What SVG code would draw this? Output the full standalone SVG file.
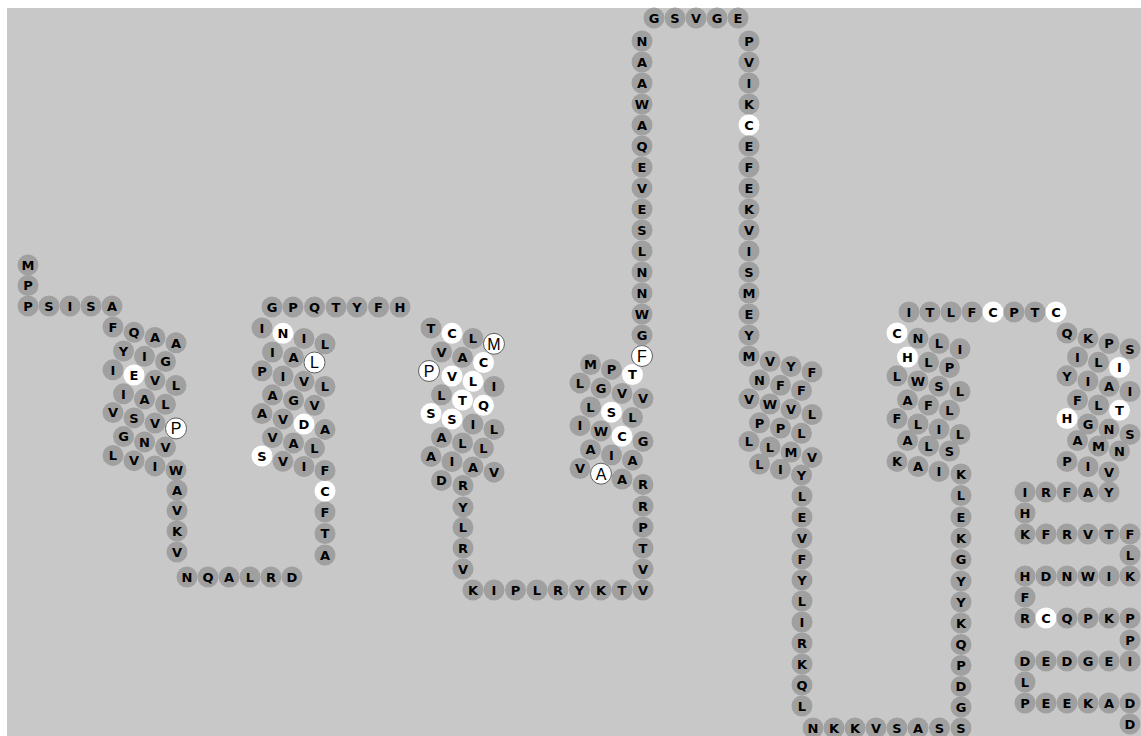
<svg xmlns="http://www.w3.org/2000/svg" width="1141" height="736" viewBox="0 0 1141 736">
<style>
.bg{fill:#c8c8c8}
.r circle{fill:#a0a0a0}
.r text{font-family:"DejaVu Sans",sans-serif;font-weight:bold;font-size:13px;text-anchor:middle;fill:#000}
.w circle{fill:#fff}
.o circle{fill:#fff;stroke:#606060;stroke-width:1}
.o text{font-family:"Liberation Sans",sans-serif;font-weight:normal;font-size:16px}
</style>
<rect width="1141" height="736" fill="#ffffff"/>
<rect class="bg" x="7" y="8" width="1134" height="728"/>
<g id="connectors"/>
<g id="residues">
<g id="n1" class="r" transform="translate(28 265)"><circle r="10.5"/><text y="4.7">M</text></g>
<g id="n2" class="r" transform="translate(28 285.5)"><circle r="10.5"/><text y="4.7">P</text></g>
<g id="n3" class="r" transform="translate(28 306)"><circle r="10.5"/><text y="4.7">P</text></g>
<g id="n4" class="r" transform="translate(49 306)"><circle r="10.5"/><text y="4.7">S</text></g>
<g id="n5" class="r" transform="translate(70 306)"><circle r="10.5"/><text y="4.7">I</text></g>
<g id="n6" class="r" transform="translate(91 306)"><circle r="10.5"/><text y="4.7">S</text></g>
<g id="n7" class="r" transform="translate(112 306)"><circle r="10.5"/><text y="4.7">A</text></g>

<g id="h1a" class="r" transform="translate(113 327)"><circle r="10.5"/><text y="4.7">F</text></g>
<g id="h1b" class="r" transform="translate(134 332.3)"><circle r="10.5"/><text y="4.7">Q</text></g>
<g id="h1c" class="r" transform="translate(155 337.5)"><circle r="10.5"/><text y="4.7">A</text></g>
<g id="h1d" class="r" transform="translate(176 342.8)"><circle r="10.5"/><text y="4.7">A</text></g>
<g id="h1e" class="r" transform="translate(123.5 351)"><circle r="10.5"/><text y="4.7">Y</text></g>
<g id="h1f" class="r" transform="translate(144.5 356.3)"><circle r="10.5"/><text y="4.7">I</text></g>
<g id="h1g" class="r" transform="translate(165.5 361.5)"><circle r="10.5"/><text y="4.7">G</text></g>
<g id="h1h" class="r" transform="translate(113 369.8)"><circle r="10.5"/><text y="4.7">I</text></g>
<g id="h1i" class="r w" transform="translate(134 375)"><circle r="10.5"/><text y="4.7">E</text></g>
<g id="h1j" class="r" transform="translate(155 380.3)"><circle r="10.5"/><text y="4.7">V</text></g>
<g id="h1k" class="r" transform="translate(176 385.5)"><circle r="10.5"/><text y="4.7">L</text></g>
<g id="h1l" class="r" transform="translate(123.5 393.8)"><circle r="10.5"/><text y="4.7">I</text></g>
<g id="h1m" class="r" transform="translate(144.5 399)"><circle r="10.5"/><text y="4.7">A</text></g>
<g id="h1n" class="r" transform="translate(165.5 404.3)"><circle r="10.5"/><text y="4.7">L</text></g>
<g id="h1o" class="r" transform="translate(113 412.6)"><circle r="10.5"/><text y="4.7">V</text></g>
<g id="h1p" class="r" transform="translate(134 417.9)"><circle r="10.5"/><text y="4.7">S</text></g>
<g id="h1q" class="r" transform="translate(155 423.1)"><circle r="10.5"/><text y="4.7">V</text></g>
<g id="h1r" class="r o" transform="translate(176 428.4)"><circle r="10.5"/><text y="5.8">P</text></g>
<g id="h1s" class="r" transform="translate(123.5 436.6)"><circle r="10.5"/><text y="4.7">G</text></g>
<g id="h1t" class="r" transform="translate(144.5 441.9)"><circle r="10.5"/><text y="4.7">N</text></g>
<g id="h1u" class="r" transform="translate(165.5 447.1)"><circle r="10.5"/><text y="4.7">V</text></g>
<g id="h1v" class="r" transform="translate(113 455.4)"><circle r="10.5"/><text y="4.7">L</text></g>
<g id="h1w" class="r" transform="translate(134 460.7)"><circle r="10.5"/><text y="4.7">V</text></g>
<g id="h1x" class="r" transform="translate(155 465.9)"><circle r="10.5"/><text y="4.7">I</text></g>
<g id="h1y" class="r" transform="translate(176 470)"><circle r="10.5"/><text y="4.7">W</text></g>

<g id="l1a" class="r" transform="translate(177 490)"><circle r="10.5"/><text y="4.7">A</text></g>
<g id="l1b" class="r" transform="translate(177 510.5)"><circle r="10.5"/><text y="4.7">V</text></g>
<g id="l1c" class="r" transform="translate(177 531)"><circle r="10.5"/><text y="4.7">K</text></g>
<g id="l1d" class="r" transform="translate(177 552)"><circle r="10.5"/><text y="4.7">V</text></g>
<g id="l1e" class="r" transform="translate(187 577)"><circle r="10.5"/><text y="4.7">N</text></g>
<g id="l1f" class="r" transform="translate(208 577)"><circle r="10.5"/><text y="4.7">Q</text></g>
<g id="l1g" class="r" transform="translate(229 577)"><circle r="10.5"/><text y="4.7">A</text></g>
<g id="l1h" class="r" transform="translate(250 577)"><circle r="10.5"/><text y="4.7">L</text></g>
<g id="l1i" class="r" transform="translate(271 577)"><circle r="10.5"/><text y="4.7">R</text></g>
<g id="l1j" class="r" transform="translate(292 577)"><circle r="10.5"/><text y="4.7">D</text></g>
<g id="l1k" class="r" transform="translate(325 555)"><circle r="10.5"/><text y="4.7">A</text></g>
<g id="l1l" class="r" transform="translate(325 533.5)"><circle r="10.5"/><text y="4.7">T</text></g>
<g id="l1m" class="r" transform="translate(325 512)"><circle r="10.5"/><text y="4.7">F</text></g>
<g id="l1n" class="r w" transform="translate(325 491)"><circle r="10.5"/><text y="4.7">C</text></g>

<g id="h2a" class="r" transform="translate(262 328)"><circle r="10.5"/><text y="4.7">I</text></g>
<g id="h2b" class="r w" transform="translate(283 333.3)"><circle r="10.5"/><text y="4.7">N</text></g>
<g id="h2c" class="r" transform="translate(304 338.5)"><circle r="10.5"/><text y="4.7">I</text></g>
<g id="h2d" class="r" transform="translate(325 343.8)"><circle r="10.5"/><text y="4.7">L</text></g>
<g id="h2e" class="r" transform="translate(272.5 352)"><circle r="10.5"/><text y="4.7">I</text></g>
<g id="h2f" class="r" transform="translate(293.5 357.3)"><circle r="10.5"/><text y="4.7">A</text></g>
<g id="h2g" class="r o" transform="translate(314.5 362.5)"><circle r="10.5"/><text y="5.8">L</text></g>
<g id="h2h" class="r" transform="translate(262 370.8)"><circle r="10.5"/><text y="4.7">P</text></g>
<g id="h2i" class="r" transform="translate(283 376)"><circle r="10.5"/><text y="4.7">I</text></g>
<g id="h2j" class="r" transform="translate(304 381.3)"><circle r="10.5"/><text y="4.7">V</text></g>
<g id="h2k" class="r" transform="translate(325 386.5)"><circle r="10.5"/><text y="4.7">L</text></g>
<g id="h2l" class="r" transform="translate(272.5 394.8)"><circle r="10.5"/><text y="4.7">A</text></g>
<g id="h2m" class="r" transform="translate(293.5 400)"><circle r="10.5"/><text y="4.7">G</text></g>
<g id="h2n" class="r" transform="translate(314.5 405.3)"><circle r="10.5"/><text y="4.7">V</text></g>
<g id="h2o" class="r" transform="translate(262 413.6)"><circle r="10.5"/><text y="4.7">A</text></g>
<g id="h2p" class="r" transform="translate(283 418.9)"><circle r="10.5"/><text y="4.7">V</text></g>
<g id="h2q" class="r w" transform="translate(304 424.1)"><circle r="10.5"/><text y="4.7">D</text></g>
<g id="h2r" class="r" transform="translate(325 429.4)"><circle r="10.5"/><text y="4.7">A</text></g>
<g id="h2s" class="r" transform="translate(272.5 437.6)"><circle r="10.5"/><text y="4.7">V</text></g>
<g id="h2t" class="r" transform="translate(293.5 442.9)"><circle r="10.5"/><text y="4.7">A</text></g>
<g id="h2u" class="r" transform="translate(314.5 448.1)"><circle r="10.5"/><text y="4.7">L</text></g>
<g id="h2v" class="r w" transform="translate(262 456)"><circle r="10.5"/><text y="4.7">S</text></g>
<g id="h2w" class="r" transform="translate(283 461.3)"><circle r="10.5"/><text y="4.7">V</text></g>
<g id="h2x" class="r" transform="translate(304 466.5)"><circle r="10.5"/><text y="4.7">I</text></g>
<g id="h2y" class="r" transform="translate(325 470.5)"><circle r="10.5"/><text y="4.7">F</text></g>

<g id="l2a" class="r" transform="translate(272 307)"><circle r="10.5"/><text y="4.7">G</text></g>
<g id="l2b" class="r" transform="translate(293 307)"><circle r="10.5"/><text y="4.7">P</text></g>
<g id="l2c" class="r" transform="translate(314.5 307)"><circle r="10.5"/><text y="4.7">Q</text></g>
<g id="l2d" class="r" transform="translate(336 307)"><circle r="10.5"/><text y="4.7">T</text></g>
<g id="l2e" class="r" transform="translate(357 307)"><circle r="10.5"/><text y="4.7">Y</text></g>
<g id="l2f" class="r" transform="translate(378.5 307)"><circle r="10.5"/><text y="4.7">F</text></g>
<g id="l2g" class="r" transform="translate(400 307)"><circle r="10.5"/><text y="4.7">H</text></g>

<g id="h3a" class="r" transform="translate(431 328)"><circle r="10.5"/><text y="4.7">T</text></g>
<g id="h3b" class="r w" transform="translate(452 333.3)"><circle r="10.5"/><text y="4.7">C</text></g>
<g id="h3c" class="r" transform="translate(473 338.5)"><circle r="10.5"/><text y="4.7">L</text></g>
<g id="h3d" class="r o" transform="translate(494 343.8)"><circle r="10.5"/><text y="5.8">M</text></g>
<g id="h3e" class="r" transform="translate(441.5 352)"><circle r="10.5"/><text y="4.7">V</text></g>
<g id="h3f" class="r" transform="translate(462.5 357.3)"><circle r="10.5"/><text y="4.7">A</text></g>
<g id="h3g" class="r w" transform="translate(483.5 362.5)"><circle r="10.5"/><text y="4.7">C</text></g>
<g id="h3h" class="r o" transform="translate(429 371)"><circle r="10.5"/><text y="5.8">P</text></g>
<g id="h3i" class="r w" transform="translate(452 376)"><circle r="10.5"/><text y="4.7">V</text></g>
<g id="h3j" class="r w" transform="translate(473 381.3)"><circle r="10.5"/><text y="4.7">L</text></g>
<g id="h3k" class="r" transform="translate(494 386.5)"><circle r="10.5"/><text y="4.7">I</text></g>
<g id="h3l" class="r" transform="translate(441.5 394.8)"><circle r="10.5"/><text y="4.7">L</text></g>
<g id="h3m" class="r w" transform="translate(462.5 400)"><circle r="10.5"/><text y="4.7">T</text></g>
<g id="h3n" class="r w" transform="translate(483.5 405.3)"><circle r="10.5"/><text y="4.7">Q</text></g>
<g id="h3o" class="r w" transform="translate(431 413.6)"><circle r="10.5"/><text y="4.7">S</text></g>
<g id="h3p" class="r w" transform="translate(452 418.9)"><circle r="10.5"/><text y="4.7">S</text></g>
<g id="h3q" class="r" transform="translate(473 424.1)"><circle r="10.5"/><text y="4.7">I</text></g>
<g id="h3r" class="r" transform="translate(494 429.4)"><circle r="10.5"/><text y="4.7">L</text></g>
<g id="h3s" class="r" transform="translate(441.5 437.6)"><circle r="10.5"/><text y="4.7">A</text></g>
<g id="h3t" class="r" transform="translate(462.5 442.9)"><circle r="10.5"/><text y="4.7">L</text></g>
<g id="h3u" class="r" transform="translate(483.5 448.1)"><circle r="10.5"/><text y="4.7">L</text></g>
<g id="h3v" class="r" transform="translate(431 456.4)"><circle r="10.5"/><text y="4.7">A</text></g>
<g id="h3w" class="r" transform="translate(452 461.7)"><circle r="10.5"/><text y="4.7">I</text></g>
<g id="h3x" class="r" transform="translate(473 466.9)"><circle r="10.5"/><text y="4.7">A</text></g>
<g id="h3y" class="r" transform="translate(494 472.2)"><circle r="10.5"/><text y="4.7">V</text></g>
<g id="h3z" class="r" transform="translate(441.5 480.4)"><circle r="10.5"/><text y="4.7">D</text></g>

<g id="l3a" class="r" transform="translate(463 485.5)"><circle r="10.5"/><text y="4.7">R</text></g>
<g id="l3b" class="r" transform="translate(463 507)"><circle r="10.5"/><text y="4.7">Y</text></g>
<g id="l3c" class="r" transform="translate(463 527.5)"><circle r="10.5"/><text y="4.7">L</text></g>
<g id="l3d" class="r" transform="translate(463 548)"><circle r="10.5"/><text y="4.7">R</text></g>
<g id="l3e" class="r" transform="translate(463 569)"><circle r="10.5"/><text y="4.7">V</text></g>
<g id="l3f" class="r" transform="translate(473 590)"><circle r="10.5"/><text y="4.7">K</text></g>
<g id="l3g" class="r" transform="translate(494 590)"><circle r="10.5"/><text y="4.7">I</text></g>
<g id="l3h" class="r" transform="translate(515.5 590)"><circle r="10.5"/><text y="4.7">P</text></g>
<g id="l3i" class="r" transform="translate(537 590)"><circle r="10.5"/><text y="4.7">L</text></g>
<g id="l3j" class="r" transform="translate(558 590)"><circle r="10.5"/><text y="4.7">R</text></g>
<g id="l3k" class="r" transform="translate(579.5 590)"><circle r="10.5"/><text y="4.7">Y</text></g>
<g id="l3l" class="r" transform="translate(601 590)"><circle r="10.5"/><text y="4.7">K</text></g>
<g id="l3m" class="r" transform="translate(622 590)"><circle r="10.5"/><text y="4.7">T</text></g>
<g id="l3n" class="r" transform="translate(643 590)"><circle r="10.5"/><text y="4.7">V</text></g>
<g id="l3o" class="r" transform="translate(643 569)"><circle r="10.5"/><text y="4.7">V</text></g>
<g id="l3p" class="r" transform="translate(643 548)"><circle r="10.5"/><text y="4.7">T</text></g>
<g id="l3q" class="r" transform="translate(643 527)"><circle r="10.5"/><text y="4.7">P</text></g>
<g id="l3r" class="r" transform="translate(643 506)"><circle r="10.5"/><text y="4.7">R</text></g>

<g id="h4a" class="r" transform="translate(643 484.5)"><circle r="10.5"/><text y="4.7">R</text></g>
<g id="h4b" class="r" transform="translate(622 479)"><circle r="10.5"/><text y="4.7">A</text></g>
<g id="h4c" class="r o" transform="translate(601 473.7)"><circle r="10.5"/><text y="5.8">A</text></g>
<g id="h4d" class="r" transform="translate(580 468.5)"><circle r="10.5"/><text y="4.7">V</text></g>
<g id="h4e" class="r" transform="translate(632.5 460.2)"><circle r="10.5"/><text y="4.7">A</text></g>
<g id="h4f" class="r" transform="translate(611.5 455)"><circle r="10.5"/><text y="4.7">I</text></g>
<g id="h4g" class="r" transform="translate(590.5 449.7)"><circle r="10.5"/><text y="4.7">A</text></g>
<g id="h4h" class="r" transform="translate(643 441.4)"><circle r="10.5"/><text y="4.7">G</text></g>
<g id="h4i" class="r w" transform="translate(622 436.2)"><circle r="10.5"/><text y="4.7">C</text></g>
<g id="h4j" class="r" transform="translate(601 430.9)"><circle r="10.5"/><text y="4.7">W</text></g>
<g id="h4k" class="r" transform="translate(580 425.7)"><circle r="10.5"/><text y="4.7">I</text></g>
<g id="h4l" class="r" transform="translate(632.5 417.4)"><circle r="10.5"/><text y="4.7">L</text></g>
<g id="h4m" class="r w" transform="translate(611.5 412.2)"><circle r="10.5"/><text y="4.7">S</text></g>
<g id="h4n" class="r" transform="translate(590.5 406.9)"><circle r="10.5"/><text y="4.7">L</text></g>
<g id="h4o" class="r" transform="translate(643 398.6)"><circle r="10.5"/><text y="4.7">V</text></g>
<g id="h4p" class="r" transform="translate(622 393.4)"><circle r="10.5"/><text y="4.7">V</text></g>
<g id="h4q" class="r" transform="translate(601 388.1)"><circle r="10.5"/><text y="4.7">G</text></g>
<g id="h4r" class="r" transform="translate(580 382.9)"><circle r="10.5"/><text y="4.7">L</text></g>
<g id="h4s" class="r w" transform="translate(632.5 374.6)"><circle r="10.5"/><text y="4.7">T</text></g>
<g id="h4t" class="r" transform="translate(611.5 369.4)"><circle r="10.5"/><text y="4.7">P</text></g>
<g id="h4u" class="r" transform="translate(590.5 364.5)"><circle r="10.5"/><text y="4.7">M</text></g>
<g id="h4v" class="r o" transform="translate(642 356)"><circle r="10.5"/><text y="5.8">F</text></g>

<g id="l4a" class="r" transform="translate(642 335)"><circle r="10.5"/><text y="4.7">G</text></g>
<g id="l4b" class="r" transform="translate(642 314)"><circle r="10.5"/><text y="4.7">W</text></g>
<g id="l4c" class="r" transform="translate(642 293)"><circle r="10.5"/><text y="4.7">N</text></g>
<g id="l4d" class="r" transform="translate(642 272)"><circle r="10.5"/><text y="4.7">N</text></g>
<g id="l4e" class="r" transform="translate(642 251)"><circle r="10.5"/><text y="4.7">L</text></g>
<g id="l4f" class="r" transform="translate(642 230)"><circle r="10.5"/><text y="4.7">S</text></g>
<g id="l4g" class="r" transform="translate(642 209)"><circle r="10.5"/><text y="4.7">E</text></g>
<g id="l4h" class="r" transform="translate(642 188)"><circle r="10.5"/><text y="4.7">V</text></g>
<g id="l4i" class="r" transform="translate(642 167)"><circle r="10.5"/><text y="4.7">E</text></g>
<g id="l4j" class="r" transform="translate(642 146)"><circle r="10.5"/><text y="4.7">Q</text></g>
<g id="l4k" class="r" transform="translate(642 125)"><circle r="10.5"/><text y="4.7">A</text></g>
<g id="l4l" class="r" transform="translate(642 104)"><circle r="10.5"/><text y="4.7">W</text></g>
<g id="l4m" class="r" transform="translate(642 83)"><circle r="10.5"/><text y="4.7">A</text></g>
<g id="l4n" class="r" transform="translate(642 62)"><circle r="10.5"/><text y="4.7">A</text></g>
<g id="l4o" class="r" transform="translate(642 41)"><circle r="10.5"/><text y="4.7">N</text></g>
<g id="l4p" class="r" transform="translate(654 18)"><circle r="10.5"/><text y="4.7">G</text></g>
<g id="l4q" class="r" transform="translate(675 18)"><circle r="10.5"/><text y="4.7">S</text></g>
<g id="l4r" class="r" transform="translate(696 18)"><circle r="10.5"/><text y="4.7">V</text></g>
<g id="l4s" class="r" transform="translate(717 18)"><circle r="10.5"/><text y="4.7">G</text></g>
<g id="l4t" class="r" transform="translate(738 18)"><circle r="10.5"/><text y="4.7">E</text></g>
<g id="l4u" class="r" transform="translate(749 41)"><circle r="10.5"/><text y="4.7">P</text></g>
<g id="l4v" class="r" transform="translate(749 62)"><circle r="10.5"/><text y="4.7">V</text></g>
<g id="l4w" class="r" transform="translate(749 83)"><circle r="10.5"/><text y="4.7">I</text></g>
<g id="l4x" class="r" transform="translate(749 104)"><circle r="10.5"/><text y="4.7">K</text></g>
<g id="l4y" class="r w" transform="translate(749 125)"><circle r="10.5"/><text y="4.7">C</text></g>
<g id="l4z" class="r" transform="translate(749 146)"><circle r="10.5"/><text y="4.7">E</text></g>
<g id="l4aa" class="r" transform="translate(749 167)"><circle r="10.5"/><text y="4.7">F</text></g>
<g id="l4ab" class="r" transform="translate(749 188)"><circle r="10.5"/><text y="4.7">E</text></g>
<g id="l4ac" class="r" transform="translate(749 209)"><circle r="10.5"/><text y="4.7">K</text></g>
<g id="l4ad" class="r" transform="translate(749 230)"><circle r="10.5"/><text y="4.7">V</text></g>
<g id="l4ae" class="r" transform="translate(749 251)"><circle r="10.5"/><text y="4.7">I</text></g>
<g id="l4af" class="r" transform="translate(749 272)"><circle r="10.5"/><text y="4.7">S</text></g>
<g id="l4ag" class="r" transform="translate(749 293)"><circle r="10.5"/><text y="4.7">M</text></g>
<g id="l4ah" class="r" transform="translate(749 314)"><circle r="10.5"/><text y="4.7">E</text></g>
<g id="l4ai" class="r" transform="translate(749 335)"><circle r="10.5"/><text y="4.7">Y</text></g>

<g id="h5a" class="r" transform="translate(749 356)"><circle r="10.5"/><text y="4.7">M</text></g>
<g id="h5b" class="r" transform="translate(770 361.3)"><circle r="10.5"/><text y="4.7">V</text></g>
<g id="h5c" class="r" transform="translate(791 366.5)"><circle r="10.5"/><text y="4.7">Y</text></g>
<g id="h5d" class="r" transform="translate(812 371.8)"><circle r="10.5"/><text y="4.7">F</text></g>
<g id="h5e" class="r" transform="translate(759.5 380)"><circle r="10.5"/><text y="4.7">N</text></g>
<g id="h5f" class="r" transform="translate(780.5 385.3)"><circle r="10.5"/><text y="4.7">F</text></g>
<g id="h5g" class="r" transform="translate(801.5 390.5)"><circle r="10.5"/><text y="4.7">F</text></g>
<g id="h5h" class="r" transform="translate(749 398.8)"><circle r="10.5"/><text y="4.7">V</text></g>
<g id="h5i" class="r" transform="translate(770 404)"><circle r="10.5"/><text y="4.7">W</text></g>
<g id="h5j" class="r" transform="translate(791 409.3)"><circle r="10.5"/><text y="4.7">V</text></g>
<g id="h5k" class="r" transform="translate(812 414.5)"><circle r="10.5"/><text y="4.7">L</text></g>
<g id="h5l" class="r" transform="translate(759.5 422.8)"><circle r="10.5"/><text y="4.7">P</text></g>
<g id="h5m" class="r" transform="translate(780.5 428)"><circle r="10.5"/><text y="4.7">P</text></g>
<g id="h5n" class="r" transform="translate(801.5 433.3)"><circle r="10.5"/><text y="4.7">L</text></g>
<g id="h5o" class="r" transform="translate(749 441.6)"><circle r="10.5"/><text y="4.7">L</text></g>
<g id="h5p" class="r" transform="translate(770 446.9)"><circle r="10.5"/><text y="4.7">L</text></g>
<g id="h5q" class="r" transform="translate(791 452.1)"><circle r="10.5"/><text y="4.7">M</text></g>
<g id="h5r" class="r" transform="translate(812 457.4)"><circle r="10.5"/><text y="4.7">V</text></g>
<g id="h5s" class="r" transform="translate(759.5 464)"><circle r="10.5"/><text y="4.7">L</text></g>
<g id="h5t" class="r" transform="translate(780.5 469.3)"><circle r="10.5"/><text y="4.7">I</text></g>
<g id="h5u" class="r" transform="translate(801.5 475)"><circle r="10.5"/><text y="4.7">Y</text></g>

<g id="l5a" class="r" transform="translate(802 496)"><circle r="10.5"/><text y="4.7">L</text></g>
<g id="l5b" class="r" transform="translate(802 517)"><circle r="10.5"/><text y="4.7">E</text></g>
<g id="l5c" class="r" transform="translate(802 538)"><circle r="10.5"/><text y="4.7">V</text></g>
<g id="l5d" class="r" transform="translate(802 559)"><circle r="10.5"/><text y="4.7">F</text></g>
<g id="l5e" class="r" transform="translate(802 580)"><circle r="10.5"/><text y="4.7">Y</text></g>
<g id="l5f" class="r" transform="translate(802 601)"><circle r="10.5"/><text y="4.7">L</text></g>
<g id="l5g" class="r" transform="translate(802 622)"><circle r="10.5"/><text y="4.7">I</text></g>
<g id="l5h" class="r" transform="translate(802 643)"><circle r="10.5"/><text y="4.7">R</text></g>
<g id="l5i" class="r" transform="translate(802 664)"><circle r="10.5"/><text y="4.7">K</text></g>
<g id="l5j" class="r" transform="translate(802 685)"><circle r="10.5"/><text y="4.7">Q</text></g>
<g id="l5k" class="r" transform="translate(802 706)"><circle r="10.5"/><text y="4.7">L</text></g>
<g id="l5l" class="r" transform="translate(813 728)"><circle r="10.5"/><text y="4.7">N</text></g>
<g id="l5m" class="r" transform="translate(834 728)"><circle r="10.5"/><text y="4.7">K</text></g>
<g id="l5n" class="r" transform="translate(855 728)"><circle r="10.5"/><text y="4.7">K</text></g>
<g id="l5o" class="r" transform="translate(876 728)"><circle r="10.5"/><text y="4.7">V</text></g>
<g id="l5p" class="r" transform="translate(897 728)"><circle r="10.5"/><text y="4.7">S</text></g>
<g id="l5q" class="r" transform="translate(918 728)"><circle r="10.5"/><text y="4.7">A</text></g>
<g id="l5r" class="r" transform="translate(939.5 728)"><circle r="10.5"/><text y="4.7">S</text></g>
<g id="l5s" class="r" transform="translate(961 728)"><circle r="10.5"/><text y="4.7">S</text></g>
<g id="l5t" class="r" transform="translate(961 707)"><circle r="10.5"/><text y="4.7">G</text></g>
<g id="l5u" class="r" transform="translate(961 686.5)"><circle r="10.5"/><text y="4.7">D</text></g>
<g id="l5v" class="r" transform="translate(961 665.5)"><circle r="10.5"/><text y="4.7">P</text></g>
<g id="l5w" class="r" transform="translate(961 644.5)"><circle r="10.5"/><text y="4.7">Q</text></g>
<g id="l5x" class="r" transform="translate(961 623)"><circle r="10.5"/><text y="4.7">K</text></g>
<g id="l5y" class="r" transform="translate(961 602)"><circle r="10.5"/><text y="4.7">Y</text></g>
<g id="l5z" class="r" transform="translate(961 581)"><circle r="10.5"/><text y="4.7">Y</text></g>
<g id="l5aa" class="r" transform="translate(961 559.5)"><circle r="10.5"/><text y="4.7">G</text></g>
<g id="l5ab" class="r" transform="translate(961 538)"><circle r="10.5"/><text y="4.7">K</text></g>
<g id="l5ac" class="r" transform="translate(961 517)"><circle r="10.5"/><text y="4.7">E</text></g>
<g id="l5ad" class="r" transform="translate(961 495.5)"><circle r="10.5"/><text y="4.7">L</text></g>
<g id="l5ae" class="r" transform="translate(961 474)"><circle r="10.5"/><text y="4.7">K</text></g>

<g id="h6a" class="r" transform="translate(939 471.5)"><circle r="10.5"/><text y="4.7">I</text></g>
<g id="h6b" class="r" transform="translate(918 466.5)"><circle r="10.5"/><text y="4.7">A</text></g>
<g id="h6c" class="r" transform="translate(897 461.4)"><circle r="10.5"/><text y="4.7">K</text></g>
<g id="h6d" class="r" transform="translate(949.5 451.1)"><circle r="10.5"/><text y="4.7">S</text></g>
<g id="h6e" class="r" transform="translate(928.5 445.9)"><circle r="10.5"/><text y="4.7">L</text></g>
<g id="h6f" class="r" transform="translate(907.5 440.6)"><circle r="10.5"/><text y="4.7">A</text></g>
<g id="h6g" class="r" transform="translate(960 434.4)"><circle r="10.5"/><text y="4.7">L</text></g>
<g id="h6h" class="r" transform="translate(939 429.1)"><circle r="10.5"/><text y="4.7">I</text></g>
<g id="h6i" class="r" transform="translate(918 423.9)"><circle r="10.5"/><text y="4.7">L</text></g>
<g id="h6j" class="r" transform="translate(897 418.6)"><circle r="10.5"/><text y="4.7">F</text></g>
<g id="h6k" class="r" transform="translate(949.5 410.3)"><circle r="10.5"/><text y="4.7">L</text></g>
<g id="h6l" class="r" transform="translate(928.5 405)"><circle r="10.5"/><text y="4.7">F</text></g>
<g id="h6m" class="r" transform="translate(907.5 399.8)"><circle r="10.5"/><text y="4.7">A</text></g>
<g id="h6n" class="r" transform="translate(960 391.5)"><circle r="10.5"/><text y="4.7">L</text></g>
<g id="h6o" class="r" transform="translate(939 386.3)"><circle r="10.5"/><text y="4.7">S</text></g>
<g id="h6p" class="r" transform="translate(918 381)"><circle r="10.5"/><text y="4.7">W</text></g>
<g id="h6q" class="r" transform="translate(897 375.8)"><circle r="10.5"/><text y="4.7">L</text></g>
<g id="h6r" class="r" transform="translate(949.5 367.5)"><circle r="10.5"/><text y="4.7">P</text></g>
<g id="h6s" class="r" transform="translate(928.5 362.3)"><circle r="10.5"/><text y="4.7">L</text></g>
<g id="h6t" class="r w" transform="translate(907.5 357)"><circle r="10.5"/><text y="4.7">H</text></g>
<g id="h6u" class="r" transform="translate(960 348.8)"><circle r="10.5"/><text y="4.7">I</text></g>
<g id="h6v" class="r" transform="translate(939 343.5)"><circle r="10.5"/><text y="4.7">L</text></g>
<g id="h6w" class="r" transform="translate(918 338.3)"><circle r="10.5"/><text y="4.7">N</text></g>
<g id="h6x" class="r w" transform="translate(897 333)"><circle r="10.5"/><text y="4.7">C</text></g>

<g id="l6a" class="r" transform="translate(909 312)"><circle r="10.5"/><text y="4.7">I</text></g>
<g id="l6b" class="r" transform="translate(930 312)"><circle r="10.5"/><text y="4.7">T</text></g>
<g id="l6c" class="r" transform="translate(951 312)"><circle r="10.5"/><text y="4.7">L</text></g>
<g id="l6d" class="r" transform="translate(972 312)"><circle r="10.5"/><text y="4.7">F</text></g>
<g id="l6e" class="r w" transform="translate(993 312)"><circle r="10.5"/><text y="4.7">C</text></g>
<g id="l6f" class="r" transform="translate(1014 312)"><circle r="10.5"/><text y="4.7">P</text></g>
<g id="l6g" class="r" transform="translate(1035 312)"><circle r="10.5"/><text y="4.7">T</text></g>
<g id="l6h" class="r w" transform="translate(1056 312)"><circle r="10.5"/><text y="4.7">C</text></g>

<g id="h7a" class="r" transform="translate(1067 333)"><circle r="10.5"/><text y="4.7">Q</text></g>
<g id="h7b" class="r" transform="translate(1088 338.3)"><circle r="10.5"/><text y="4.7">K</text></g>
<g id="h7c" class="r" transform="translate(1109 343.5)"><circle r="10.5"/><text y="4.7">P</text></g>
<g id="h7d" class="r" transform="translate(1130 348.8)"><circle r="10.5"/><text y="4.7">S</text></g>
<g id="h7e" class="r" transform="translate(1077.5 357)"><circle r="10.5"/><text y="4.7">I</text></g>
<g id="h7f" class="r" transform="translate(1098.5 362.3)"><circle r="10.5"/><text y="4.7">L</text></g>
<g id="h7g" class="r w" transform="translate(1119.5 367.5)"><circle r="10.5"/><text y="4.7">I</text></g>
<g id="h7h" class="r" transform="translate(1067 375.8)"><circle r="10.5"/><text y="4.7">Y</text></g>
<g id="h7i" class="r" transform="translate(1088 381)"><circle r="10.5"/><text y="4.7">I</text></g>
<g id="h7j" class="r" transform="translate(1109 386.3)"><circle r="10.5"/><text y="4.7">A</text></g>
<g id="h7k" class="r" transform="translate(1130 391.5)"><circle r="10.5"/><text y="4.7">I</text></g>
<g id="h7l" class="r" transform="translate(1077.5 399.8)"><circle r="10.5"/><text y="4.7">F</text></g>
<g id="h7m" class="r" transform="translate(1098.5 405)"><circle r="10.5"/><text y="4.7">L</text></g>
<g id="h7n" class="r w" transform="translate(1119.5 410.3)"><circle r="10.5"/><text y="4.7">T</text></g>
<g id="h7o" class="r w" transform="translate(1067 418.6)"><circle r="10.5"/><text y="4.7">H</text></g>
<g id="h7p" class="r" transform="translate(1088 423.9)"><circle r="10.5"/><text y="4.7">G</text></g>
<g id="h7q" class="r" transform="translate(1109 429.1)"><circle r="10.5"/><text y="4.7">N</text></g>
<g id="h7r" class="r" transform="translate(1130 434.4)"><circle r="10.5"/><text y="4.7">S</text></g>
<g id="h7s" class="r" transform="translate(1077.5 440.6)"><circle r="10.5"/><text y="4.7">A</text></g>
<g id="h7t" class="r" transform="translate(1098.5 445.9)"><circle r="10.5"/><text y="4.7">M</text></g>
<g id="h7u" class="r" transform="translate(1119.5 451.1)"><circle r="10.5"/><text y="4.7">N</text></g>
<g id="h7v" class="r" transform="translate(1067 461.4)"><circle r="10.5"/><text y="4.7">P</text></g>
<g id="h7w" class="r" transform="translate(1088 466.7)"><circle r="10.5"/><text y="4.7">I</text></g>
<g id="h7x" class="r" transform="translate(1109 471.9)"><circle r="10.5"/><text y="4.7">V</text></g>

<g id="c1" class="r" transform="translate(1109 492)"><circle r="10.5"/><text y="4.7">Y</text></g>
<g id="c2" class="r" transform="translate(1088 492)"><circle r="10.5"/><text y="4.7">A</text></g>
<g id="c3" class="r" transform="translate(1067 492)"><circle r="10.5"/><text y="4.7">F</text></g>
<g id="c4" class="r" transform="translate(1046 492)"><circle r="10.5"/><text y="4.7">R</text></g>
<g id="c5" class="r" transform="translate(1025 492)"><circle r="10.5"/><text y="4.7">I</text></g>
<g id="c6" class="r" transform="translate(1025 513)"><circle r="10.5"/><text y="4.7">H</text></g>
<g id="c7" class="r" transform="translate(1025 534)"><circle r="10.5"/><text y="4.7">K</text></g>
<g id="c8" class="r" transform="translate(1046 534)"><circle r="10.5"/><text y="4.7">F</text></g>
<g id="c9" class="r" transform="translate(1067 534)"><circle r="10.5"/><text y="4.7">R</text></g>
<g id="c10" class="r" transform="translate(1088 534)"><circle r="10.5"/><text y="4.7">V</text></g>
<g id="c11" class="r" transform="translate(1109 534)"><circle r="10.5"/><text y="4.7">T</text></g>
<g id="c12" class="r" transform="translate(1130 534)"><circle r="10.5"/><text y="4.7">F</text></g>
<g id="c13" class="r" transform="translate(1130 555)"><circle r="10.5"/><text y="4.7">L</text></g>
<g id="c14" class="r" transform="translate(1130 576)"><circle r="10.5"/><text y="4.7">K</text></g>
<g id="c15" class="r" transform="translate(1109 576)"><circle r="10.5"/><text y="4.7">I</text></g>
<g id="c16" class="r" transform="translate(1088 576)"><circle r="10.5"/><text y="4.7">W</text></g>
<g id="c17" class="r" transform="translate(1067 576)"><circle r="10.5"/><text y="4.7">N</text></g>
<g id="c18" class="r" transform="translate(1046 576)"><circle r="10.5"/><text y="4.7">D</text></g>
<g id="c19" class="r" transform="translate(1025 576)"><circle r="10.5"/><text y="4.7">H</text></g>
<g id="c20" class="r" transform="translate(1025 597)"><circle r="10.5"/><text y="4.7">F</text></g>
<g id="c21" class="r" transform="translate(1025 618)"><circle r="10.5"/><text y="4.7">R</text></g>
<g id="c22" class="r w" transform="translate(1046 618)"><circle r="10.5"/><text y="4.7">C</text></g>
<g id="c23" class="r" transform="translate(1067 618)"><circle r="10.5"/><text y="4.7">Q</text></g>
<g id="c24" class="r" transform="translate(1088 618)"><circle r="10.5"/><text y="4.7">P</text></g>
<g id="c25" class="r" transform="translate(1109 618)"><circle r="10.5"/><text y="4.7">K</text></g>
<g id="c26" class="r" transform="translate(1130 618)"><circle r="10.5"/><text y="4.7">P</text></g>
<g id="c27" class="r" transform="translate(1130 640)"><circle r="10.5"/><text y="4.7">P</text></g>
<g id="c28" class="r" transform="translate(1130 661)"><circle r="10.5"/><text y="4.7">I</text></g>
<g id="c29" class="r" transform="translate(1109 661)"><circle r="10.5"/><text y="4.7">E</text></g>
<g id="c30" class="r" transform="translate(1088 661)"><circle r="10.5"/><text y="4.7">G</text></g>
<g id="c31" class="r" transform="translate(1067 661)"><circle r="10.5"/><text y="4.7">D</text></g>
<g id="c32" class="r" transform="translate(1046 661)"><circle r="10.5"/><text y="4.7">E</text></g>
<g id="c33" class="r" transform="translate(1025 661)"><circle r="10.5"/><text y="4.7">D</text></g>
<g id="c34" class="r" transform="translate(1025 682)"><circle r="10.5"/><text y="4.7">L</text></g>
<g id="c35" class="r" transform="translate(1025 703)"><circle r="10.5"/><text y="4.7">P</text></g>
<g id="c36" class="r" transform="translate(1046 703)"><circle r="10.5"/><text y="4.7">E</text></g>
<g id="c37" class="r" transform="translate(1067 703)"><circle r="10.5"/><text y="4.7">E</text></g>
<g id="c38" class="r" transform="translate(1088 703)"><circle r="10.5"/><text y="4.7">K</text></g>
<g id="c39" class="r" transform="translate(1109 703)"><circle r="10.5"/><text y="4.7">A</text></g>
<g id="c40" class="r" transform="translate(1130 703)"><circle r="10.5"/><text y="4.7">D</text></g>
<g id="c41" class="r" transform="translate(1130 724)"><circle r="10.5"/><text y="4.7">D</text></g>
</g>
</svg>
